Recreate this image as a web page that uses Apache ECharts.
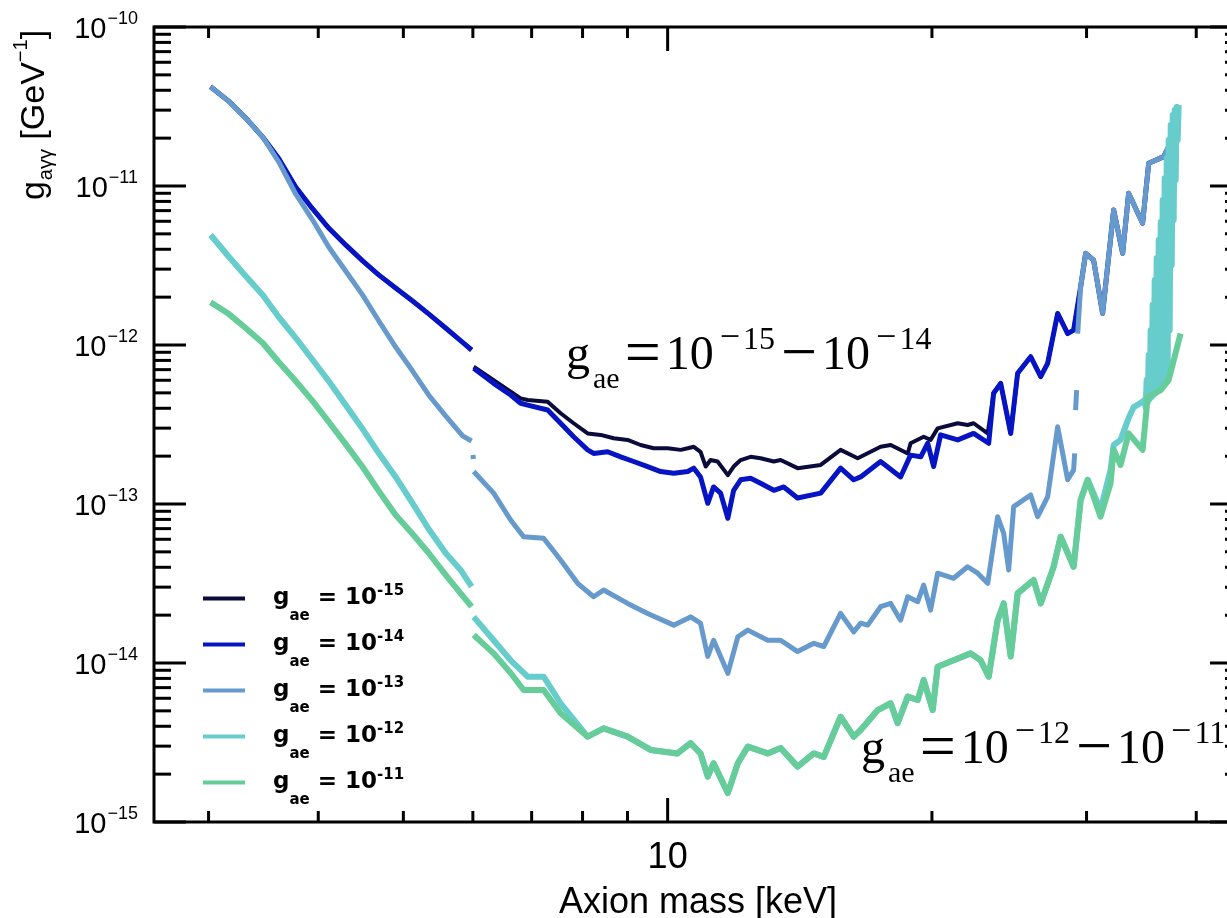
<!DOCTYPE html>
<html><head><meta charset="utf-8">
<script src="https://cdn.jsdelivr.net/npm/echarts@6/dist/echarts.min.js"></script>
<style>html,body{margin:0;padding:0;background:#fff}#c{width:1227px;height:918px}</style>
</head><body><div id="c"></div>
<script>
// ---------- data (axion mass in keV, g_aγγ in GeV^-1); null = gap ----------
const mass_gae15 = [3.016,3.162,3.306,3.458,3.606,3.770,3.942,4.111,4.298,4.494,4.687,4.900,5.123,5.343,5.586,5.841,5.980,5.996,
 6.013,6.336,6.625,6.801,6.927,7.300,7.553,7.815,8.107,8.389,8.680,9.004,9.316,9.639,10.00,10.35,10.54,10.71,10.90,11.05,11.19,11.40,11.71,11.89,12.11,12.43,12.76,13.21,13.45,14.06,14.94,15.74,16.46,17.48,17.95,18.77,18.91,19.57,19.93,20.30,21.40,21.96,22.31,23.15,
 23.51,23.95,24.59,25.04,25.91,26.60,27.09,27.81,28.55,29.00,29.54,29.93,30.56,31.29,32.21,32.98,33.50,34.75,35.31,36.73,37.21,38.19];
const gagg_gae15 = [4.21e-11,3.42e-11,2.68e-11,2.03e-11,1.49e-11,9.86e-12,7.17e-12,5.44e-12,4.26e-12,3.38e-12,2.76e-12,2.28e-12,1.89e-12,1.57e-12,1.28e-12,1.04e-12,9.30e-13,null,
 7.30e-13,6.02e-13,5.09e-13,4.62e-13,4.51e-13,4.40e-13,3.72e-13,3.22e-13,2.78e-13,2.72e-13,2.59e-13,2.53e-13,2.35e-13,2.24e-13,2.24e-13,2.19e-13,2.24e-13,2.29e-13,2.13e-13,1.72e-13,1.89e-13,1.85e-13,1.52e-13,1.72e-13,1.89e-13,1.98e-13,1.94e-13,1.85e-13,1.89e-13,1.68e-13,1.76e-13,2.19e-13,1.94e-13,2.29e-13,2.35e-13,2.08e-13,2.41e-13,2.65e-13,2.53e-13,2.99e-13,3.22e-13,3.14e-13,3.22e-13,2.78e-13,
 4.97e-13,5.74e-13,2.78e-13,6.64e-13,8.44e-13,6.32e-13,7.67e-13,1.58e-12,1.18e-12,1.24e-12,2.33e-12,3.77e-12,3.42e-12,1.58e-12,7.06e-12,3.77e-12,9.00e-12,5.83e-12,1.39e-11,1.53e-11,1.77e-11,3.23e-11];

const mass_gae14 = [3.016,3.162,3.306,3.458,3.606,3.770,3.942,4.111,4.298,4.494,4.687,4.900,5.123,5.343,5.586,5.841,5.980,5.996,
 6.013,6.336,6.625,6.801,6.927,7.300,7.553,7.815,8.107,8.236,8.544,8.841,9.147,9.489,9.818,10.16,10.54,10.71,10.90,11.11,11.28,11.49,11.71,11.89,12.11,12.43,12.76,13.21,13.56,14.06,14.94,15.74,16.29,16.59,17.48,18.42,18.91,19.42,19.78,20.09,20.46,21.40,22.31,23.21,
 23.51,23.95,24.59,25.04,25.91,26.60,27.09,27.81,28.55,29.00,29.54,29.93,30.56,31.29,32.21,32.98,33.50,34.75,35.31,36.73,37.21,38.19];
const gagg_gae14 = [4.21e-11,3.42e-11,2.68e-11,2.03e-11,1.49e-11,9.86e-12,7.17e-12,5.44e-12,4.26e-12,3.38e-12,2.76e-12,2.28e-12,1.89e-12,1.57e-12,1.28e-12,1.04e-12,9.30e-13,null,
 7.14e-13,5.74e-13,4.85e-13,4.30e-13,4.19e-13,3.90e-13,3.22e-13,2.65e-13,2.19e-13,2.08e-13,2.13e-13,1.98e-13,1.85e-13,1.72e-13,1.60e-13,1.56e-13,1.60e-13,1.68e-13,1.48e-13,1.01e-13,1.28e-13,1.17e-13,8.13e-14,1.22e-13,1.42e-13,1.45e-13,1.35e-13,1.22e-13,1.28e-13,1.09e-13,1.17e-13,1.68e-13,1.42e-13,1.48e-13,1.85e-13,1.48e-13,2.03e-13,1.98e-13,2.41e-13,1.72e-13,2.72e-13,2.53e-13,2.78e-13,2.41e-13,
 4.97e-13,5.74e-13,2.78e-13,6.64e-13,8.44e-13,6.32e-13,7.67e-13,1.58e-12,1.18e-12,1.24e-12,2.33e-12,3.77e-12,3.42e-12,1.58e-12,7.06e-12,3.77e-12,9.00e-12,5.83e-12,1.39e-11,1.53e-11,1.77e-11,3.23e-11];

const mass_gae13 = [3.016,3.162,3.306,3.458,3.606,3.770,3.942,4.111,4.298,4.494,4.687,4.900,5.123,5.343,5.586,5.841,5.980,5.990,6.002,6.008,6.010,
 6.013,6.336,6.625,6.854,7.223,7.553,7.897,8.236,8.455,9.004,9.489,10.16,10.62,10.90,11.11,11.28,11.71,12.02,12.34,13.00,13.45,14.06,14.67,15.06,15.74,16.29,16.59,16.90,17.48,17.95,18.42,18.77,19.27,19.57,19.93,20.30,21.17,21.96,22.55,23.15,23.76,24.14,24.46,24.78,25.91,26.39,27.09,27.81,28.55,29.00,29.08,29.11,29.15,29.23,29.27,
 29.31,29.54,29.93,30.56,31.29,32.21,32.98,33.50,34.75,35.31,36.73,37.21,38.19];
const gagg_gae13 = [4.21e-11,3.42e-11,2.68e-11,2.03e-11,1.42e-11,8.91e-12,6.11e-12,4.13e-12,2.92e-12,2.06e-12,1.42e-12,9.71e-13,6.86e-13,4.85e-13,3.58e-13,2.68e-13,2.49e-13,null,2.03e-13,1.92e-13,null,
 1.60e-13,1.17e-13,7.93e-14,6.23e-14,6.09e-14,4.44e-14,3.17e-14,2.61e-14,2.88e-14,2.37e-14,2.05e-14,1.73e-14,1.95e-14,1.78e-14,1.10e-14,1.39e-14,8.61e-15,1.46e-14,1.61e-14,1.39e-14,1.39e-14,1.18e-14,1.33e-14,1.27e-14,2.05e-14,1.57e-14,1.78e-14,1.73e-14,2.26e-14,2.37e-14,1.86e-14,2.61e-14,2.43e-14,3.09e-14,2.15e-14,3.67e-14,3.41e-14,4.03e-14,3.67e-14,3.17e-14,8.32e-14,6.54e-14,3.85e-14,9.62e-14,1.14e-13,8.32e-14,1.11e-13,3.06e-13,1.42e-13,1.64e-13,2.08e-13,null,3.90e-13,5.21e-13,null,
 1.18e-12,2.33e-12,3.77e-12,3.42e-12,1.58e-12,7.06e-12,3.77e-12,9.00e-12,5.83e-12,1.39e-11,1.53e-11,1.77e-11,3.23e-11];

const mass_gae12 = [3.016,3.162,3.306,3.458,3.606,3.770,3.942,4.111,4.298,4.494,4.687,4.900,5.123,5.343,5.586,5.810,5.980,5.996,
 6.013,6.336,6.625,6.927,7.223,7.553,8.107,8.455,9.004,9.564,10.26,10.62,10.90,11.11,11.28,11.71,12.02,12.34,13.00,13.45,14.06,14.67,15.06,15.74,16.29,16.59,17.35,17.95,18.28,18.77,19.27,19.57,20.04,20.30,21.17,22.14,22.72,23.21,23.76,24.14,24.59,25.04,26.11,26.60,27.52,28.03,29.00,29.54,30.09,
 31.12,31.95,32.21,32.80,33.50,33.95,34.58,
 34.94,35.03,35.12,35.22,35.31,35.40,35.49,35.59,35.68,35.77,35.87,35.96,36.06,36.15,36.25,36.34,36.44,36.53,36.63,36.73,36.82,36.92,37.02,37.11,37.21,37.31,37.41,37.51,37.61,37.70,37.80,37.90,38.00,38.10,38.20];
const gagg_gae12 = [4.92e-12,3.60e-12,2.72e-12,2.06e-12,1.50e-12,1.11e-12,8.05e-13,5.94e-13,4.19e-13,2.96e-13,2.09e-13,1.48e-13,1.01e-13,6.96e-14,4.92e-14,3.85e-14,3.02e-14,null,
 1.95e-14,1.39e-14,1.04e-14,8.20e-15,8.20e-15,5.58e-15,3.44e-15,3.88e-15,3.44e-15,2.84e-15,2.70e-15,3.13e-15,2.70e-15,1.93e-15,2.34e-15,1.52e-15,2.34e-15,2.98e-15,2.70e-15,2.92e-15,2.23e-15,2.70e-15,2.57e-15,4.59e-15,3.44e-15,3.79e-15,5.06e-15,5.58e-15,4.18e-15,6.14e-15,5.85e-15,7.82e-15,5.06e-15,9.48e-15,1.04e-14,1.15e-14,1.04e-14,8.20e-15,1.86e-14,2.37e-14,1.10e-14,2.74e-14,3.33e-14,2.37e-14,4.03e-14,6.23e-14,4.03e-14,1.06e-13,1.42e-13,
 9.17e-14,1.64e-13,2.35e-13,2.53e-13,3.47e-13,4.07e-13,4.32e-13,
 4.51e-13,4.02e-13,6.02e-13,4.38e-13,8.65e-13,4.57e-13,1.24e-12,4.71e-13,1.79e-12,4.85e-13,2.56e-12,4.99e-13,3.53e-12,5.14e-13,4.57e-12,5.29e-13,5.94e-12,5.44e-13,8.17e-12,5.60e-13,1.12e-11,5.77e-13,1.50e-11,6.48e-13,1.95e-11,1.24e-12,2.42e-11,3.18e-12,2.80e-11,6.11e-12,3.01e-11,1.09e-11,3.14e-11,1.95e-11,3.23e-11];

const mass_gae11 = [3.016,3.162,3.306,3.458,3.606,3.770,3.942,4.111,4.298,4.494,4.687,4.900,5.123,5.343,5.586,5.810,5.980,5.996,
 6.013,6.336,6.625,6.854,7.223,7.553,8.107,8.455,9.004,9.564,10.26,10.62,10.90,11.11,11.28,11.71,12.02,12.34,13.00,13.45,14.06,14.67,15.06,15.74,16.29,16.59,17.35,17.95,18.28,18.77,19.27,19.57,20.04,20.30,21.17,22.14,22.72,23.21,23.76,24.14,24.59,25.04,26.11,26.60,27.52,28.03,29.00,29.54,30.09,
 31.12,31.95,32.21,32.80,33.50,34.75,35.22,36.44,37.21,38.39];
const gagg_gae11 = [1.86e-12,1.57e-12,1.28e-12,1.03e-12,7.82e-13,5.94e-13,4.44e-13,3.29e-13,2.38e-13,1.71e-13,1.21e-13,8.53e-14,6.48e-14,4.92e-14,3.58e-14,2.74e-14,2.26e-14,null,
 1.50e-14,1.15e-14,8.65e-15,6.76e-15,6.76e-15,4.83e-15,3.44e-15,3.88e-15,3.44e-15,2.84e-15,2.70e-15,3.13e-15,2.70e-15,1.93e-15,2.34e-15,1.52e-15,2.34e-15,2.98e-15,2.70e-15,2.92e-15,2.23e-15,2.70e-15,2.57e-15,4.59e-15,3.44e-15,3.79e-15,5.06e-15,5.58e-15,4.18e-15,6.14e-15,5.85e-15,7.82e-15,5.06e-15,9.48e-15,1.04e-14,1.15e-14,1.04e-14,8.20e-15,1.86e-14,2.37e-14,1.10e-14,2.74e-14,3.33e-14,2.37e-14,4.03e-14,6.23e-14,4.03e-14,1.06e-13,1.42e-13,
 8.32e-14,1.35e-13,2.19e-13,1.76e-13,2.78e-13,2.19e-13,4.71e-13,5.21e-13,6.02e-13,1.18e-12];

const seriesNames = ['gae=1e-15','gae=1e-14','gae=1e-13','gae=1e-12','gae=1e-11'];
const legendExponents = ['-15','-14','-13','-12','-11'];
const seriesColors = ['#0b0b3b','#0714c4','#6699cc','#66cccc','#66cc99'];

// axis ticks / labels
const xMin = 2.6, xMax = 45.1, yMin = 1e-15, yMax = 1e-10;
const xLabelValues = [10];
const xMajorTicks = [10];
const xMinorTicks = [3,4,5,6,7,8,9,20,30,40];
const yMajorTicks = [1e-15,1e-14,1e-13,1e-12,1e-11,1e-10];
const yMinorTicks = [2e-15,3e-15,4e-15,5e-15,6e-15,7e-15,8e-15,9e-15,
 2e-14,3e-14,4e-14,5e-14,6e-14,7e-14,8e-14,9e-14,
 2e-13,3e-13,4e-13,5e-13,6e-13,7e-13,8e-13,9e-13,
 2e-12,3e-12,4e-12,5e-12,6e-12,7e-12,8e-12,9e-12,
 2e-11,3e-11,4e-11,5e-11,6e-11,7e-11,8e-11,9e-11];

// ---------- build ----------
function pairs(ms, gs){ return ms.map((m,i)=>[m, gs[i]===null ? '-' : gs[i]]); }
const allData = [pairs(mass_gae15,gagg_gae15),pairs(mass_gae14,gagg_gae14),pairs(mass_gae13,gagg_gae13),pairs(mass_gae12,gagg_gae12),pairs(mass_gae11,gagg_gae11)];
const widths = [4,5,5,6,6];
const lineSeries = seriesNames.map((n,i)=>({
  name:n, type:'line', data:allData[i], showSymbol:false, symbol:'none', connectNulls:false,
  lineStyle:{color:seriesColors[i], width:widths[i], join:'round', cap:'butt'},
  itemStyle:{color:seriesColors[i]}, silent:true, z:2+i
}));

const xTickData = xMinorTicks.map(v=>[v,yMin,0]).concat(xMajorTicks.map(v=>[v,yMin,1]));
const yTickData = yMinorTicks.map(v=>[xMin,v,0]).concat(yMajorTicks.map(v=>[xMin,v,1]));
const tickStyle = {stroke:'#000', lineWidth:3};
const xTickSeries = {
  type:'custom', silent:true, z:20, data:xTickData, encode:{x:0,y:1},
  renderItem:(params,api)=>{
    const cs = params.coordSys;
    const p = api.coord([api.value(0), api.value(1)]);
    const len = api.value(2) ? 24 : 11;
    const yb = cs.y + cs.height, yt = cs.y;
    return {type:'group', children:[
      {type:'line', shape:{x1:p[0],y1:yb,x2:p[0],y2:yb-len}, style:tickStyle},
      {type:'line', shape:{x1:p[0],y1:yt,x2:p[0],y2:yt+len}, style:tickStyle}
    ]};
  }
};
const yTickSeries = {
  type:'custom', silent:true, z:20, data:yTickData, encode:{x:0,y:1},
  renderItem:(params,api)=>{
    const cs = params.coordSys;
    const p = api.coord([api.value(0), api.value(1)]);
    const len = api.value(2) ? 32 : 17;
    const xl = cs.x, xr = cs.x + cs.width;
    return {type:'group', children:[
      {type:'line', shape:{x1:xl,y1:p[1],x2:xl+len,y2:p[1]}, style:tickStyle},
      {type:'line', shape:{x1:xr,y1:p[1],x2:xr-len,y2:p[1]}, style:tickStyle}
    ]};
  }
};

const SERIF = 'Liberation Serif', SANS = 'Liberation Sans';
const annRich = {
  g:{fontFamily:SERIF,fontSize:48,fill:'#000'},
  sub:{fontFamily:SERIF,fontSize:30,fill:'#000',padding:[47,0,0,3]},
  eq:{fontFamily:SERIF,fontSize:64,fill:'#000',padding:[0,0,0,5]},
  b:{fontFamily:SERIF,fontSize:48,fill:'#000',padding:[0,0,0,5]},
  sm:{fontFamily:SERIF,fontSize:36,fill:'#000',padding:[0,0,36,6]},
  sd:{fontFamily:SERIF,fontSize:32,fill:'#000',padding:[0,0,31,3]},
  mn:{fontFamily:SERIF,fontSize:64,fill:'#000',padding:[0,0,0,6]}
};
function annText(e1,e2){ return '{g|g}{sub|ae}{eq|=}{b|10}{sm|\u2212}{sd|'+e1+'}{mn|\u2212}{b|10}{sm|\u2212}{sd|'+e2+'}'; }

const legendRichBase = {fontFamily:'DejaVu Sans',fontWeight:'bold',color:'#000',lineHeight:30};
const option = {
  animation:false,
  backgroundColor:'#fff',
  grid:{left:154,right:-15,top:27,bottom:96,show:true,borderColor:'#000',borderWidth:3,backgroundColor:'transparent',containLabel:false,outerBoundsMode:'none'},
  xAxis:{
    type:'log', logBase:10, min:xMin, max:xMax,
    axisLine:{show:false}, axisTick:{show:false}, splitLine:{show:false}, minorTick:{show:false},
    axisLabel:{margin:18, fontFamily:SANS, fontSize:36, color:'#000',
      formatter:(v)=> xLabelValues.some(t=>Math.abs(v-t)<1e-6) ? String(Math.round(v)) : ''},
    name:'Axion mass [keV]', nameLocation:'middle', nameGap:63,
    nameTextStyle:{fontFamily:SANS, fontSize:36, color:'#000'}
  },
  yAxis:{
    type:'log', logBase:10, min:yMin, max:yMax,
    axisLine:{show:false}, axisTick:{show:false}, splitLine:{show:false}, minorTick:{show:false},
    axisLabel:{margin:16, lineHeight:30, color:'#000',
      formatter:(v)=>{ const e = Math.round(Math.log10(v)); return '{b|10}{s|\u2212'+(-e)+'}'; },
      rich:{
        b:{fontFamily:SANS,fontSize:29,color:'#000',padding:[6,0,0,0]},
        s:{fontFamily:SANS,fontSize:18,color:'#000',padding:[0,0,16,1]}
      }}
  },
  legend:{
    orient:'vertical', left:203, top:573, padding:0, itemGap:-5, itemWidth:42, itemHeight:4, icon:'rect',
    selectedMode:false, data:seriesNames,
    formatter:(name)=>'{g|g}{s|ae}{t| = 10}{u|'+legendExponents[seriesNames.indexOf(name)]+'}',
    textStyle:{fontFamily:'DejaVu Sans',fontWeight:'bold',fontSize:23,color:'#000',lineHeight:30,padding:[0,0,0,23],
      rich:{
        g:Object.assign({fontSize:23},legendRichBase),
        s:Object.assign({fontSize:15,padding:[36,0,0,0]},legendRichBase),
        t:Object.assign({fontSize:23},legendRichBase),
        u:Object.assign({fontSize:15,padding:[0,0,15,0]},legendRichBase)
      }}
  },
  graphic:[
    {type:'text', x:35, y:115, rotation:Math.PI/2, silent:true,
      style:{text:'{m|g}{s|a\u03b3\u03b3}{m| [GeV}{u|\u22121}{m|]}', align:'center', verticalAlign:'middle', lineHeight:40, fill:'#000',
        rich:{
          m:{fontFamily:SANS,fontSize:34,fill:'#000'},
          s:{fontFamily:SANS,fontSize:20,fill:'#000',padding:[22,0,0,1]},
          u:{fontFamily:SANS,fontSize:20,fill:'#000',padding:[0,0,27,0]}
        }}},
    {type:'text', x:566, y:356.5, silent:true, z:50,
      style:{text:annText('15','14'), align:'left', verticalAlign:'middle', lineHeight:60, fill:'#000', rich:annRich}},
    {type:'text', x:861, y:750.5, silent:true, z:50,
      style:{text:annText('12','11'), align:'left', verticalAlign:'middle', lineHeight:60, fill:'#000', rich:annRich}}
  ],
  series: lineSeries.concat([xTickSeries, yTickSeries])
};
const chart = echarts.init(document.getElementById('c'), null, {renderer:'canvas', width:1227, height:918});
chart.setOption(option);
</script>
</body></html>
